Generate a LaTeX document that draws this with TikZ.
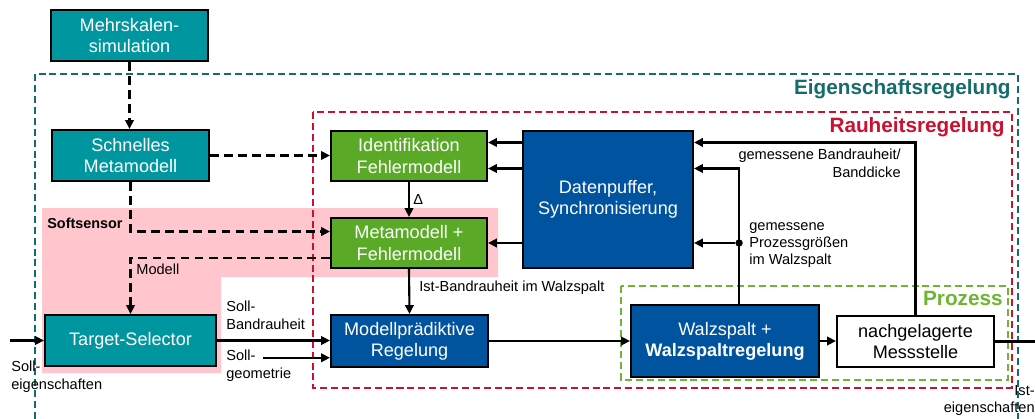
\documentclass[tikz,border=0pt]{standalone}
\usepackage{fontspec}
\setmainfont{Liberation Sans}
\usetikzlibrary{arrows.meta,calc}

\definecolor{tealbox}{RGB}{0,150,160}
\definecolor{tealdark}{RGB}{22,108,108}
\definecolor{rotlinie}{RGB}{204,16,48}
\definecolor{gruenbox}{RGB}{90,170,40}
\definecolor{gruenlinie}{RGB}{110,182,50}
\definecolor{blaubox}{RGB}{0,84,159}
\definecolor{rosa}{RGB}{255,198,205}

\tikzset{
  kasten/.style={draw=black,line width=1.2pt,text=white,align=center,inner sep=0pt,
    font=\fontsize{10.3}{12}\selectfont},
  tealk/.style={kasten,fill=tealbox,minimum width=3.14cm,minimum height=1.02cm},
  gruenk/.style={kasten,fill=gruenbox,minimum width=3.12cm,minimum height=1cm},
  blauk/.style={kasten,fill=blaubox},
  rahmen/.style={line width=1.1pt,dash pattern=on 4pt off 2.2pt},
  titel/.style={font=\fontsize{11.8}{14}\selectfont\bfseries,inner sep=0pt},
  lbl/.style={font=\fontsize{8.3}{9.8}\selectfont,inner sep=0pt,align=left},
  pfeil/.style={line width=1.2pt,-{Triangle[length=5pt,width=4.8pt]}},
  strich/.style={pfeil,dash pattern=on 5pt off 3pt},
  punkt/.style={circle,fill=black,inner sep=0pt,minimum size=4.2pt}
}

\begin{document}
\begin{tikzpicture}[x=0.02cm,y=-0.02cm]
\useasboundingbox (0,0) rectangle (1035,419);

% Softsensor
\fill[rosa] (42,208) -- (498,208) -- (498,277) -- (221,277) -- (221,373) -- (42,373) -- cycle;

% Regelkreise
\draw[rahmen,tealdark] (35,419) -- (35,74) -- (1018,74) -- (1018,419);
\draw[rahmen,rotlinie] (313,112) rectangle (1012,388);
\draw[rahmen,gruenlinie] (621,286) rectangle (1008,380);

\node[titel,tealdark,anchor=base east] (lblEigen) at (1011,94) {Eigenschaftsregelung};
\node[titel,rotlinie,anchor=base east] (lblRauheit) at (1005,132) {Rauheitsregelung};
\node[titel,gruenlinie,anchor=base east] (lblProzess) at (1003,305) {Prozess};
\node[font=\fontsize{8.2}{10}\selectfont\bfseries,inner sep=0pt,anchor=base west] (lblSoft) at (47,228) {Softsensor};

% Bloecke
\node[tealk] (mehrskalen) at (129.5,35.5) {Mehrskalen-\\simulation};
\node[tealk] (schnell) at (130.5,155.5) {Schnelles\\Metamodell};
\node[tealk,minimum width=3.42cm] (target) at (130.5,340.5) {Target-Selector};
\node[gruenk] (ident) at (409,156) {Identifikation\\Fehlermodell};
\node[gruenk] (metafehler) at (409,243) {Metamodell +\\Fehlermodell};
\node[blauk,minimum width=3.4cm,minimum height=2.74cm] (puffer) at (608,199.5) {Datenpuffer,\\Synchronisierung};
\node[blauk,minimum width=3.14cm,minimum height=1.04cm] (mpc) at (409.5,341) {Modellprädiktive\\Regelung};
\node[blauk,minimum width=3.76cm,minimum height=1.44cm] (walz) at (725,341) {Walzspalt +\\\textbf{Walzspaltregelung}};
\node[kasten,fill=white,text=black,minimum width=3.14cm,minimum height=1.02cm] (mess) at (915.5,341.5) {nachgelagerte\\Messstelle};

% Hilfspunkte
\coordinate (i1) at ($(ident.north east)!0.24!(ident.south east)$);
\coordinate (i2) at ($(ident.north east)!0.74!(ident.south east)$);
\coordinate (m1) at ($(metafehler.north west)!0.28!(metafehler.south west)$);
\coordinate (m2) at ($(metafehler.north west)!0.78!(metafehler.south west)$);
\coordinate (r2) at ($(mpc.north west)!0.81!(mpc.south west)$);
\coordinate (w1) at ($(walz.north west)!0.574!(walz.north east)$);
\coordinate (sollgeo) at (263,0);
\coordinate (eingang) at (10,0);
\coordinate (ausgang) at (1035,0);

% Modellpfad
\draw[strich] (mehrskalen.south) -- (mehrskalen.south |- schnell.north);
\draw[strich] (schnell.east) -- (schnell.east -| ident.west);
\draw[strich] (schnell.south) |- (m1);
\draw[strich] (m2) -| (target.north);
\node[lbl,anchor=base west] (lblModell) at (136,274) {Modell};

\draw[pfeil] (ident.south) -- (metafehler.north);
\node[lbl,anchor=base west] (lblDelta) at (413,204) {Δ};
\draw[pfeil] (metafehler.south) -- (mpc.north);
\node[lbl,anchor=base west] (lblIst) at (419,291) {Ist-Bandrauheit im Walzspalt};

\draw[pfeil] (puffer.west |- i1) -- (i1);
\draw[pfeil] (puffer.west |- i2) -- (i2);
\draw[pfeil] (puffer.west |- metafehler.east) -- (metafehler.east);

% Sollwerte
\draw[pfeil] (eingang |- target.west) -- (target.west);
\node[lbl,anchor=north west] (lblSollEig) at (11,361) {Soll-\\eigenschaften};
\draw[pfeil] (target.east) -- (target.east -| mpc.west);
\node[lbl,anchor=north west] (lblSollBand) at (226,301) {Soll-\\Bandrauheit};
\draw[pfeil] (sollgeo |- r2) -- (r2);
\node[lbl,anchor=north west] (lblSollGeo) at (226,350) {Soll-\\geometrie};

% Prozess
\draw[pfeil] (mpc.east) -- (mpc.east -| walz.west);
\draw[pfeil] (walz.east) -- (walz.east -| mess.west);
\draw[line width=1.2pt] (mess.east) -- (mess.east -| ausgang);
\node[lbl,align=right,anchor=north east] (lblIstEig) at (1035,385) {Ist-\\eigenschaften};

% Rueckfuehrung
\draw[pfeil] (mess.north) |- (puffer.east |- i1);
\node[lbl,align=right,anchor=north east] (lblBand) at (901,149) {gemessene Bandrauheit/\\Banddicke};
\draw[pfeil] (w1) |- (puffer.east |- i2);
\node[punkt] (abzweig) at (w1 |- metafehler.east) {};
\draw[pfeil] (abzweig) -- (puffer.east |- metafehler.east);
\node[lbl,anchor=north west] (lblGroessen) at (749,222) {gemessene\\Prozessgrößen\\im Walzspalt};
\end{tikzpicture}
\end{document}
